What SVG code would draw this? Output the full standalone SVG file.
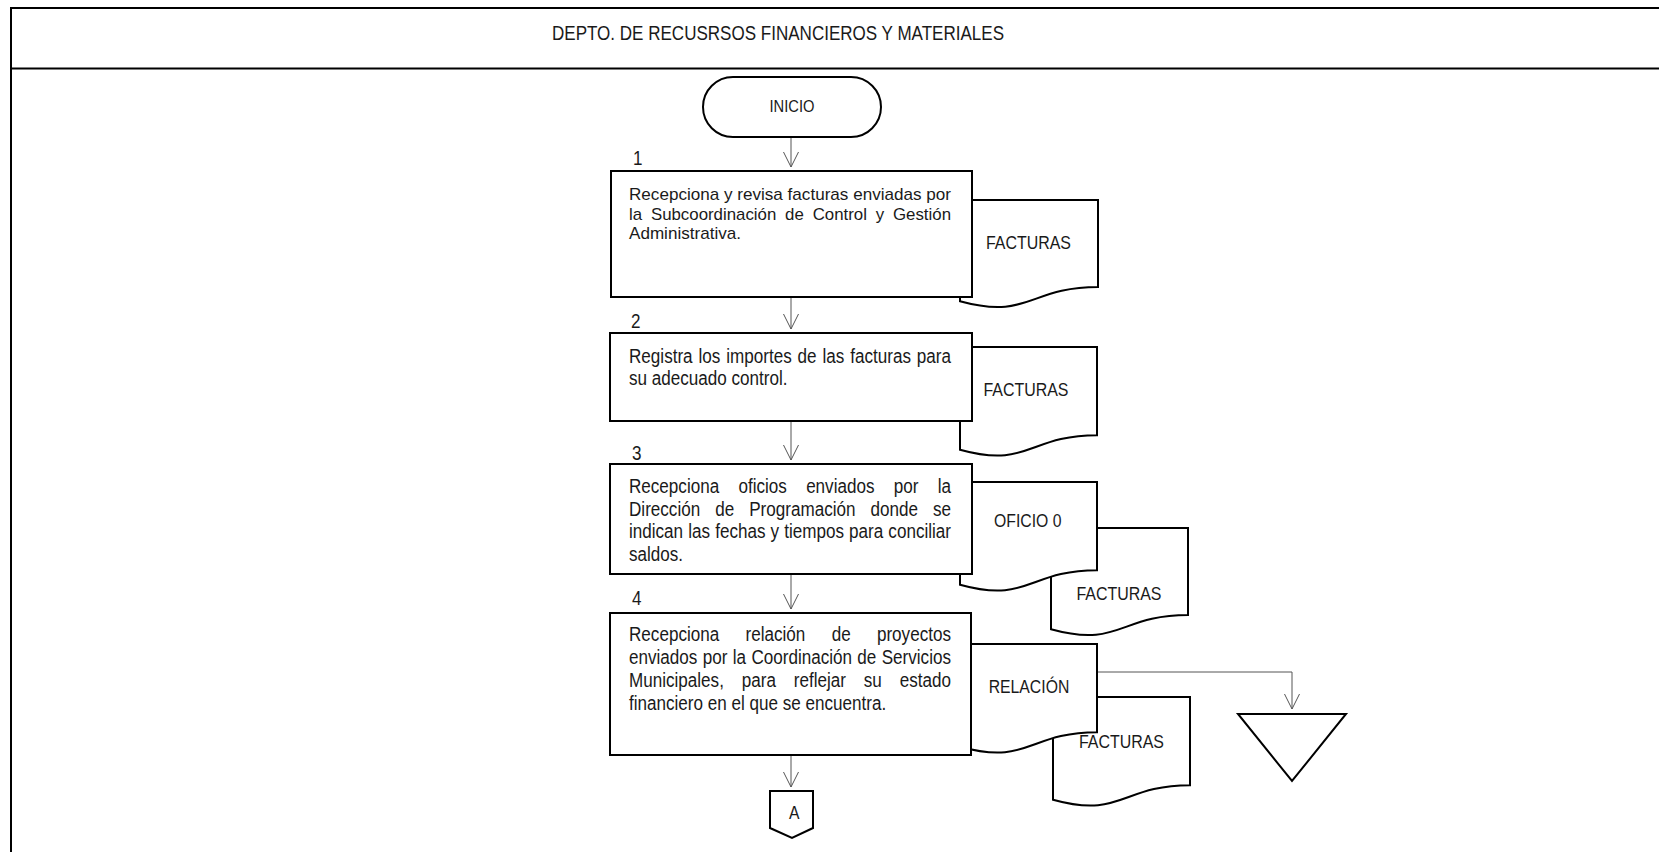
<svg xmlns="http://www.w3.org/2000/svg" width="1659" height="852" viewBox="0 0 1659 852">
  <style>
    .frame { fill: none; stroke: #000; stroke-width: 2; }
    .shape { fill: #fff; stroke: #000; stroke-width: 2; }
    .conn { fill: none; stroke: #555; stroke-width: 1; }
    text { font-family: "Liberation Sans", Arial, sans-serif; fill: #1a1a1a; }
    .body { font-size: 19.5px; }
    .tight { font-size: 17px; }
    .lbl { font-size: 18px; }
  </style>
  <defs>
    <marker id="arr" viewBox="-16 -9 17 18" refX="0" refY="0" markerWidth="17" markerHeight="18" markerUnits="userSpaceOnUse" orient="auto">
      <path d="M-15,-7.5 L0,0 L-15,7.5" fill="none" stroke="#555" stroke-width="1"/>
    </marker>
  </defs>

  <rect width="1659" height="852" fill="#fff"/>

  <!-- swimlane frame and header -->
  <g id="lane">
    <rect class="frame" x="11" y="8" width="1700" height="900"/>
    <line class="frame" x1="11" y1="68.5" x2="1659" y2="68.5"/>
    <text class="body" x="552" y="40" textLength="452" lengthAdjust="spacingAndGlyphs">DEPTO. DE RECUSRSOS FINANCIEROS Y MATERIALES</text>
  </g>

  <!-- connectors -->
  <g id="connectors">
    <path class="conn" d="M791,137 V167" marker-end="url(#arr)"/>
    <path class="conn" d="M791,297 V329" marker-end="url(#arr)"/>
    <path class="conn" d="M791,421 V460" marker-end="url(#arr)"/>
    <path class="conn" d="M791,574 V609" marker-end="url(#arr)"/>
    <path class="conn" d="M791,755 V787" marker-end="url(#arr)"/>
    <path class="conn" d="M1097,672 H1292 V709" marker-end="url(#arr)"/>
  </g>

  <!-- start terminal -->
  <g id="inicio">
    <rect class="shape" x="703" y="77" width="178" height="60" rx="30" ry="30"/>
    <text class="lbl" x="769.5" y="111.5" style="font-size:17px" textLength="45" lengthAdjust="spacingAndGlyphs">INICIO</text>
  </g>

  <!-- documents (drawn behind the process boxes) -->
  <g id="doc-facturas-1">
    <path class="shape" d="M960,200 H1098 V287 C1029,287 1029,320.2 960,301.3 Z"/>
    <text class="lbl" x="986" y="249" textLength="85" lengthAdjust="spacingAndGlyphs">FACTURAS</text>
  </g>
  <g id="doc-facturas-2">
    <path class="shape" d="M960,347 H1097 V435.2 C1028.5,435.2 1028.5,468.8 960,449.7 Z"/>
    <text class="lbl" x="983.5" y="396" textLength="85" lengthAdjust="spacingAndGlyphs">FACTURAS</text>
  </g>
  <g id="doc-facturas-3">
    <path class="shape" d="M1051,528 H1188 V615 C1119.5,615 1119.5,648.2 1051,629.3 Z"/>
    <text class="lbl" x="1076.5" y="600" textLength="85" lengthAdjust="spacingAndGlyphs">FACTURAS</text>
  </g>
  <g id="doc-oficio">
    <path class="shape" d="M960,482 H1097 V570.2 C1028.5,570.2 1028.5,603.8 960,584.7 Z"/>
    <text class="lbl" x="994" y="527" textLength="67.5" lengthAdjust="spacingAndGlyphs">OFICIO 0</text>
  </g>
  <g id="doc-facturas-4">
    <path class="shape" d="M1053,697 H1190 V785.2 C1121.5,785.2 1121.5,818.8 1053,799.7 Z"/>
    <text class="lbl" x="1079" y="748" textLength="85" lengthAdjust="spacingAndGlyphs">FACTURAS</text>
  </g>
  <g id="doc-relacion">
    <path class="shape" d="M960,644 H1097 V732.2 C1028.5,732.2 1028.5,765.8 960,746.7 Z"/>
    <text class="lbl" x="988.7" y="693" textLength="80.6" lengthAdjust="spacingAndGlyphs">RELACIÓN</text>
  </g>

  <!-- step 1 -->
  <g id="step-1">
    <text class="body" x="633" y="165" textLength="9.5" lengthAdjust="spacingAndGlyphs">1</text>
    <rect class="shape" x="611" y="171" width="361" height="126"/>
    <text class="tight" x="629" y="200" textLength="322" lengthAdjust="spacingAndGlyphs">Recepciona y revisa facturas enviadas por</text>
    <text class="tight" x="629" y="219.5" textLength="322" lengthAdjust="spacingAndGlyphs" style="word-spacing:4.2px">la Subcoordinación de Control y Gestión</text>
    <text class="tight" x="629" y="239" textLength="112" lengthAdjust="spacingAndGlyphs">Administrativa.</text>
  </g>

  <!-- step 2 -->
  <g id="step-2">
    <text class="body" x="631" y="328" textLength="9.5" lengthAdjust="spacingAndGlyphs">2</text>
    <rect class="shape" x="610" y="333" width="362" height="88"/>
    <text class="body" x="629" y="363" textLength="322" lengthAdjust="spacingAndGlyphs" style="word-spacing:1.3px">Registra los importes de las facturas para</text>
    <text class="body" x="629" y="385" textLength="158.6" lengthAdjust="spacingAndGlyphs">su adecuado control.</text>
  </g>

  <!-- step 3 -->
  <g id="step-3">
    <text class="body" x="632" y="460" textLength="9.5" lengthAdjust="spacingAndGlyphs">3</text>
    <rect class="shape" x="610" y="464" width="362" height="110"/>
    <text class="body" x="629" y="493" textLength="322" lengthAdjust="spacingAndGlyphs" style="word-spacing:16.6px">Recepciona oficios enviados por la</text>
    <text class="body" x="629" y="515.5" textLength="322" lengthAdjust="spacingAndGlyphs" style="word-spacing:11.7px">Dirección de Programación donde se</text>
    <text class="body" x="629" y="538" textLength="322" lengthAdjust="spacingAndGlyphs" style="word-spacing:0.4px">indican las fechas y tiempos para conciliar</text>
    <text class="body" x="629" y="561" textLength="54" lengthAdjust="spacingAndGlyphs">saldos.</text>
  </g>

  <!-- step 4 -->
  <g id="step-4">
    <text class="body" x="632" y="605" textLength="9.5" lengthAdjust="spacingAndGlyphs">4</text>
    <rect class="shape" x="610" y="613" width="361" height="142"/>
    <text class="body" x="629" y="641" textLength="322" lengthAdjust="spacingAndGlyphs" style="word-spacing:24.6px">Recepciona relación de proyectos</text>
    <text class="body" x="629" y="664" textLength="322" lengthAdjust="spacingAndGlyphs" style="word-spacing:0.7px">enviados por la Coordinación de Servicios</text>
    <text class="body" x="629" y="687" textLength="322" lengthAdjust="spacingAndGlyphs" style="word-spacing:15px">Municipales, para reflejar su estado</text>
    <text class="body" x="629" y="710" textLength="257.3" lengthAdjust="spacingAndGlyphs">financiero en el que se encuentra.</text>
  </g>

  <!-- archive -->
  <g id="archivo">
    <path class="shape" d="M1238,714 H1346 L1292,781 Z"/>
  </g>

  <!-- off-page connector -->
  <g id="conector-a">
    <path class="shape" d="M770,791 H813 V828 L792,838 L770,828 Z"/>
    <text class="lbl" x="789" y="819" textLength="10.5" lengthAdjust="spacingAndGlyphs">A</text>
  </g>
</svg>
